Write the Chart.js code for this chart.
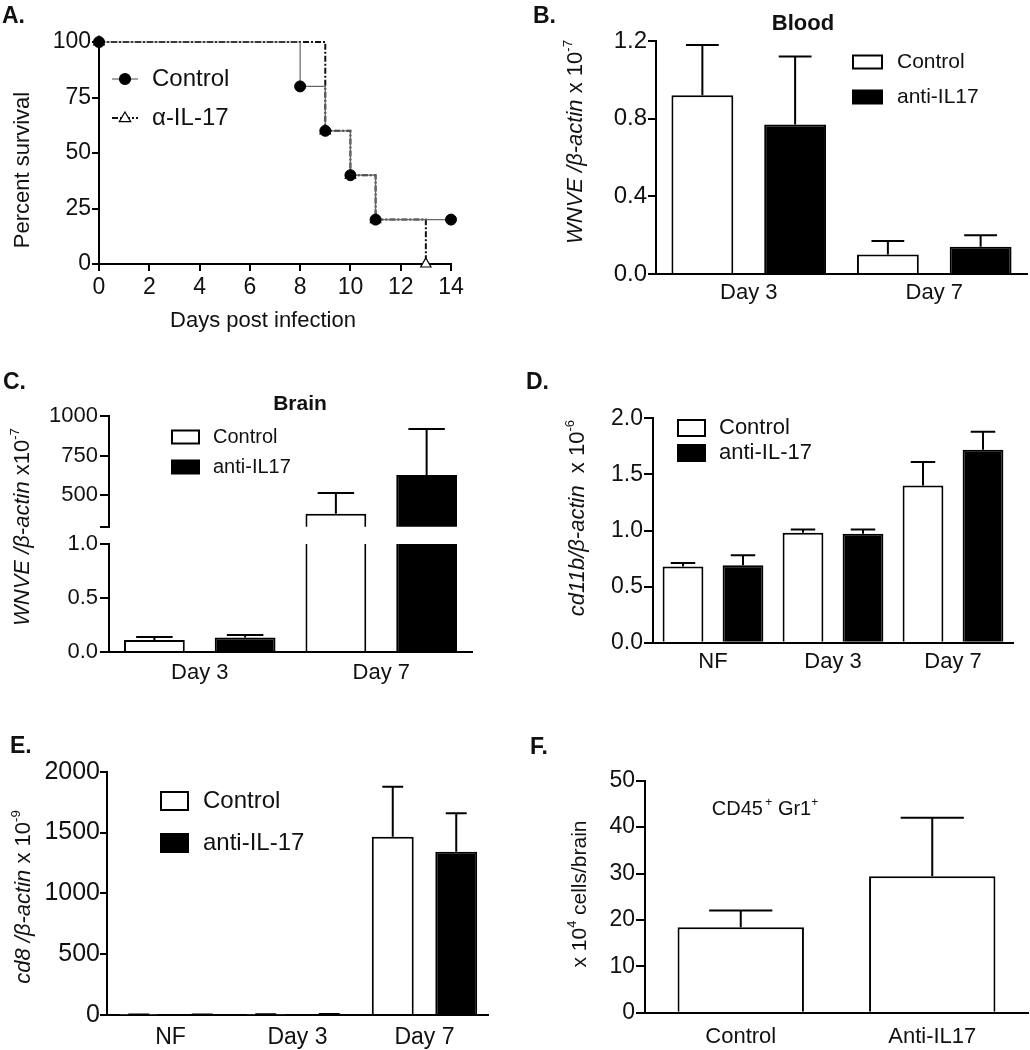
<!DOCTYPE html>
<html>
<head>
<meta charset="utf-8">
<script src="https://cdn.jsdelivr.net/npm/chart.js@4.4.1/dist/chart.umd.min.js"></script>
<style>
  body { margin: 0; background: #fff; width: 1030px; height: 1050px; position: relative; overflow: hidden;
         font-family: "Liberation Sans", Arial, sans-serif; color: #111; }
  canvas { position: absolute; }
  .lbl { position: absolute; font-weight: bold; font-size: 23px; line-height: 1; }
  .yt { position: absolute; transform: translate(-50%, -50%) rotate(-90deg); white-space: nowrap; font-size: 22px; line-height: 1; }
  .t { position: absolute; transform: translate(-50%, -50%); white-space: nowrap; line-height: 1; }
  sup { font-size: 0.6em; vertical-align: 0.75em; line-height: 0; }
</style>
</head>
<body>
<canvas id="cA" width="505" height="340" style="left:0;top:0"></canvas>
<canvas id="cB" width="520" height="340" style="left:510px;top:0"></canvas>
<canvas id="cC1" width="505" height="202" style="left:0;top:340px"></canvas>
<canvas id="cC2" width="505" height="162" style="left:0;top:528px"></canvas>
<canvas id="cD" width="520" height="345" style="left:510px;top:340px"></canvas>
<canvas id="cE" width="505" height="360" style="left:0;top:690px"></canvas>
<canvas id="cF" width="520" height="360" style="left:510px;top:690px"></canvas>

<div class="lbl" style="left:2px;top:4px">A.</div>
<div class="lbl" style="left:533px;top:4px">B.</div>
<div class="lbl" style="left:3px;top:370px">C.</div>
<div class="lbl" style="left:526px;top:370px">D.</div>
<div class="lbl" style="left:10px;top:734px">E.</div>
<div class="lbl" style="left:530px;top:735px">F.</div>

<div class="yt" style="left:22px;top:170px">Percent survival</div>
<div class="t" style="left:263px;top:320px;font-size:22px">Days post infection</div>

<div class="t" style="left:803px;top:23px;font-size:22px;font-weight:bold">Blood</div>
<div class="yt" style="left:575px;top:142px"><i>WNVE /β-actin</i> x 10<sup>-7</sup></div>

<div class="t" style="left:300px;top:402px;font-size:21px;font-weight:bold">Brain</div>
<div class="yt" style="left:22px;top:527px"><i>WNVE /β-actin</i> x10<sup>-7</sup></div>

<div class="yt" style="left:577px;top:518px"><i>cd11b/β-actin</i>&nbsp; x 10<sup>-6</sup></div>
<div class="yt" style="left:23px;top:897px"><i>cd8 /β-actin</i> x 10<sup>-9</sup></div>
<div class="yt" style="left:578px;top:894px;font-size:21px">x 10<sup>4</sup> cells/brain</div>
<div class="t" style="left:765px;top:808px;font-size:20px">CD45<sup>&thinsp;+</sup> Gr1<sup>+</sup></div>

<script>
// A: survival
const survDaysControl = [0, 8, 9, 10, 11, 14];
const survControl = [100, 80, 60, 40, 20, 20];
const survDaysAnti = [0, 9, 10, 11, 13];
const survAnti = [100, 60, 40, 20, 0];
const survXTicks = [0, 2, 4, 6, 8, 10, 12, 14];
const survYTicks = [0, 25, 50, 75, 100];

// B: blood
const bloodDays = ['Day 3', 'Day 7'];
const bloodControl = [0.92, 0.10];
const bloodControlSem = [0.26, 0.07];
const bloodAnti = [0.77, 0.14];
const bloodAntiSem = [0.35, 0.06];
const bloodTicks = [0, 0.4, 0.8, 1.2];

// C: brain (broken axis)
const brainDays = ['Day 3', 'Day 7'];
const brainControl = [0.11, 382];
const brainControlSem = [0.03, 131];
const brainAnti = [0.134, 627];
const brainAntiSem = [0.024, 291];
const brainLowTicks = [0, 0.5, 1.0];
const brainHighTicks = [300, 500, 750, 1000];

// D: cd11b
const cd11bDays = ['NF', 'Day 3', 'Day 7'];
const cd11bControl = [0.68, 0.98, 1.40];
const cd11bControlSem = [0.03, 0.03, 0.21];
const cd11bAnti = [0.69, 0.97, 1.72];
const cd11bAntiSem = [0.09, 0.04, 0.16];
const cd11bTicks = [0, 0.5, 1.0, 1.5, 2.0];

// E: cd8
const cd8Days = ['NF', 'Day 3', 'Day 7'];
const cd8Control = [3, 5, 1466];
const cd8ControlSem = [1, 1, 411];
const cd8Anti = [3, 7, 1342];
const cd8AntiSem = [1, 1, 316];
const cd8Ticks = [0, 500, 1000, 1500, 2000];

// F: CD45+ Gr1+ cells
const cellGroups = ['Control', 'Anti-IL17'];
const cellCounts = [18.4, 29.4];
const cellSem = [3.6, 12.6];
const cellTicks = [0, 10, 20, 30, 40, 50];

Chart.defaults.font.family = '"Liberation Sans", Arial, sans-serif';
Chart.defaults.color = '#111';
Chart.defaults.animation = false;
Chart.defaults.responsive = false;
Chart.defaults.events = [];
Chart.defaults.plugins.legend.display = false;
Chart.defaults.plugins.tooltip.enabled = false;

// upward error bars with caps
const errorBars = {
  id: 'errorBars',
  afterDatasetsDraw(chart, args, opts) {
    const { ctx, chartArea } = chart;
    ctx.save();
    ctx.beginPath();
    ctx.rect(chartArea.left, chartArea.top - 2, chartArea.right - chartArea.left, chartArea.bottom - chartArea.top + 2);
    ctx.clip();
    ctx.beginPath();
    chart.data.datasets.forEach((ds, i) => {
      if (!ds.sem) return;
      const meta = chart.getDatasetMeta(i);
      const yScale = chart.scales[meta.yAxisID];
      meta.data.forEach((bar, j) => {
        const top = yScale.getPixelForValue(ds.data[j] + ds.sem[j]);
        const half = bar.width * (opts.cap || 0.55) / 2;
        ctx.moveTo(bar.x, bar.y);
        ctx.lineTo(bar.x, top);
        ctx.moveTo(bar.x - half, top);
        ctx.lineTo(bar.x + half, top);
      });
    });
    ctx.lineWidth = 2;
    ctx.strokeStyle = '#000';
    ctx.stroke();
    ctx.restore();
  }
};

const panelLegend = {
  id: 'panelLegend',
  afterDraw(chart, args, o) {
    if (!o.rows) return;
    const ctx = chart.ctx;
    ctx.save();
    ctx.font = o.size + 'px "Liberation Sans", Arial, sans-serif';
    ctx.textBaseline = 'middle';
    chart.data.datasets.forEach((ds, i) => {
      const y = o.rows[i];
      if (o.kind === 'line') {
        ctx.strokeStyle = ds.borderColor;
        ctx.lineWidth = ds.borderWidth;
        ctx.setLineDash(ds.borderDash || []);
        ctx.beginPath();
        ctx.moveTo(o.x - 13, y);
        ctx.lineTo(o.x + 13, y);
        ctx.stroke();
        ctx.setLineDash([]);
        ctx.fillStyle = ds.pointBackgroundColor;
        ctx.strokeStyle = '#000';
        ctx.lineWidth = 1.2;
        ctx.beginPath();
        if (ds.pointStyle === 'triangle') {
          const r = ds.pointRadius;
          ctx.moveTo(o.x, y - r);
          ctx.lineTo(o.x + r * 0.95, y + r * 0.6);
          ctx.lineTo(o.x - r * 0.95, y + r * 0.6);
          ctx.closePath();
        } else {
          ctx.arc(o.x, y, ds.pointRadius, 0, Math.PI * 2);
        }
        ctx.fill();
        ctx.stroke();
      } else {
        ctx.fillStyle = ds.backgroundColor;
        ctx.fillRect(o.x, y - o.boxH / 2, o.boxW, o.boxH);
        ctx.lineWidth = 2;
        ctx.strokeStyle = '#000';
        ctx.strokeRect(o.x, y - o.boxH / 2, o.boxW, o.boxH);
      }
      ctx.fillStyle = '#111';
      ctx.fillText(ds.label, o.textX, y);
    });
    ctx.restore();
  }
};

Chart.register(errorBars, panelLegend);

function yAxis(ticks, decimals, o) {
  return {
    min: ticks[0],
    max: ticks[ticks.length - 1],
    afterBuildTicks: s => { s.ticks = ticks.map(v => ({ value: v })); },
    afterFit: s => { s.width = o.width; },
    ticks: {
      font: { size: o.size },
      padding: o.pad,
      color: '#111',
      callback: v => (o.hide && o.hide.includes(v)) ? '' : v.toFixed(decimals)
    },
    border: { color: '#000', width: 2 },
    grid: { drawOnChartArea: false, tickLength: o.tick, color: '#000', lineWidth: 2 }
  };
}

function catAxis(o) {
  return {
    display: o.display !== false,
    z: 1,
    afterFit: s => { s.height = o.height; },
    ticks: { font: { size: o.size }, padding: o.pad, color: '#111', maxRotation: 0 },
    border: { color: '#000', width: 2 },
    grid: { display: false, drawTicks: false }
  };
}

function bars(label, data, sem, fill) {
  return { label, data, sem, backgroundColor: fill, borderColor: '#000', borderWidth: 2, clip: 0 };
}

// A
new Chart(document.getElementById('cA'), {
  type: 'line',
  data: {
    datasets: [
      {
        label: 'Control',
        data: survDaysControl.map((d, i) => ({ x: d, y: survControl[i] })),
        stepped: 'before',
        borderColor: '#666', borderWidth: 1.2,
        pointStyle: 'circle', pointRadius: 5.5,
        pointBackgroundColor: '#000', pointBorderColor: '#000', pointBorderWidth: 1,
        clip: false
      },
      {
        label: 'α-IL-17',
        data: survDaysAnti.map((d, i) => ({ x: d, y: survAnti[i] })),
        stepped: 'before',
        borderColor: '#111', borderWidth: 2, borderDash: [6, 2, 2, 2],
        pointStyle: 'triangle', pointRadius: 6,
        pointBackgroundColor: '#fff', pointBorderColor: '#000', pointBorderWidth: 1.2,
        clip: false
      }
    ]
  },
  options: {
    layout: { padding: { top: 42, right: 54, left: 0, bottom: 0 } },
    scales: {
      x: {
        type: 'linear', min: 0, max: 14,
        afterBuildTicks: s => { s.ticks = survXTicks.map(v => ({ value: v })); },
        afterFit: s => { s.height = 76; },
        ticks: { font: { size: 23 }, padding: 3, color: '#111' },
        border: { color: '#000', width: 2 },
        grid: { drawOnChartArea: false, tickLength: 7, color: '#000', lineWidth: 2 }
      },
      y: yAxis(survYTicks, 0, { width: 99, size: 23, pad: 1, tick: 7 })
    },
    plugins: { panelLegend: { kind: 'line', x: 125, rows: [79, 118], textX: 152, size: 24 } }
  }
});

// B
new Chart(document.getElementById('cB'), {
  type: 'bar',
  data: {
    labels: bloodDays,
    datasets: [
      bars('Control', bloodControl, bloodControlSem, '#fff'),
      bars('anti-IL17', bloodAnti, bloodAntiSem, '#000')
    ]
  },
  options: {
    layout: { padding: { top: 41, right: 3, left: 0, bottom: 0 } },
    datasets: { bar: { barPercentage: 0.667, categoryPercentage: 1 } },
    scales: {
      x: catAxis({ height: 66, size: 22, pad: 6 }),
      y: yAxis(bloodTicks, 1, { width: 146, size: 24, pad: 1, tick: 8 })
    },
    plugins: {
      errorBars: { cap: 0.53 },
      panelLegend: { x: 343, rows: [62, 97], boxW: 29, boxH: 13, textX: 387, size: 21 }
    }
  }
});

// C upper segment
new Chart(document.getElementById('cC1'), {
  type: 'bar',
  data: {
    labels: brainDays,
    datasets: [
      bars('Control', brainControl, brainControlSem, '#fff'),
      bars('anti-IL17', brainAnti, brainAntiSem, '#000')
    ]
  },
  options: {
    layout: { padding: { top: 76, right: 33, left: 0, bottom: 15 } },
    datasets: { bar: { barPercentage: 0.67, categoryPercentage: 1 } },
    scales: {
      x: catAxis({ display: false, height: 0, size: 22, pad: 8 }),
      y: yAxis(brainHighTicks, 0, { width: 109, size: 22, pad: 2, tick: 9, hide: [300] })
    },
    plugins: {
      errorBars: { cap: 0.6 },
      panelLegend: { x: 172, rows: [97, 127], boxW: 27, boxH: 13, textX: 213, size: 20 }
    }
  }
});

// C lower segment
new Chart(document.getElementById('cC2'), {
  type: 'bar',
  data: {
    labels: brainDays,
    datasets: [
      bars('Control', brainControl, brainControlSem, '#fff'),
      bars('anti-IL17', brainAnti, brainAntiSem, '#000')
    ]
  },
  options: {
    layout: { padding: { top: 16, right: 33, left: 0, bottom: 0 } },
    datasets: { bar: { barPercentage: 0.67, categoryPercentage: 1 } },
    scales: {
      x: catAxis({ height: 38, size: 22, pad: 8 }),
      y: yAxis(brainLowTicks, 1, { width: 109, size: 22, pad: 2, tick: 9 })
    },
    plugins: { errorBars: { cap: 0.6 } }
  }
});

// D
new Chart(document.getElementById('cD'), {
  type: 'bar',
  data: {
    labels: cd11bDays,
    datasets: [
      bars('Control', cd11bControl, cd11bControlSem, '#fff'),
      bars('anti-IL-17', cd11bAnti, cd11bAntiSem, '#000')
    ]
  },
  options: {
    layout: { padding: { top: 78.3, right: 17, left: 0, bottom: 0 } },
    datasets: { bar: { barPercentage: 0.68, categoryPercentage: 1 } },
    scales: {
      x: catAxis({ height: 42.3, size: 22, pad: 6 }),
      y: yAxis(cd11bTicks, 1, { width: 143, size: 23, pad: 1, tick: 9 })
    },
    plugins: {
      errorBars: { cap: 0.6 },
      panelLegend: { x: 168, rows: [88, 113], boxW: 27, boxH: 16, textX: 209, size: 22 }
    }
  }
});

// E
new Chart(document.getElementById('cE'), {
  type: 'bar',
  data: {
    labels: cd8Days,
    datasets: [
      bars('Control', cd8Control, cd8ControlSem, '#fff'),
      bars('anti-IL-17', cd8Anti, cd8AntiSem, '#000')
    ]
  },
  options: {
    layout: { padding: { top: 81.7, right: 17, left: 0, bottom: 0 } },
    datasets: { bar: { barPercentage: 0.66, categoryPercentage: 1 } },
    scales: {
      x: catAxis({ height: 35, size: 23, pad: 9 }),
      y: yAxis(cd8Ticks, 0, { width: 107, size: 25, pad: 0, tick: 7 })
    },
    plugins: {
      errorBars: { cap: 0.5 },
      panelLegend: { x: 161, rows: [111, 153], boxW: 27, boxH: 18, textX: 203, size: 24 }
    }
  }
});

// F
new Chart(document.getElementById('cF'), {
  type: 'bar',
  data: {
    labels: cellGroups,
    datasets: [bars('CD45+ Gr1+', cellCounts, cellSem, '#fff')]
  },
  options: {
    layout: { padding: { top: 90.7, right: 2, left: 0, bottom: 0 } },
    datasets: { bar: { barPercentage: 0.66, categoryPercentage: 1 } },
    scales: {
      x: catAxis({ height: 37.3, size: 22, pad: 11 }),
      y: yAxis(cellTicks, 0, { width: 135, size: 23, pad: 1, tick: 9 })
    },
    plugins: { errorBars: { cap: 0.5 } }
  }
});
</script>
</body>
</html>
